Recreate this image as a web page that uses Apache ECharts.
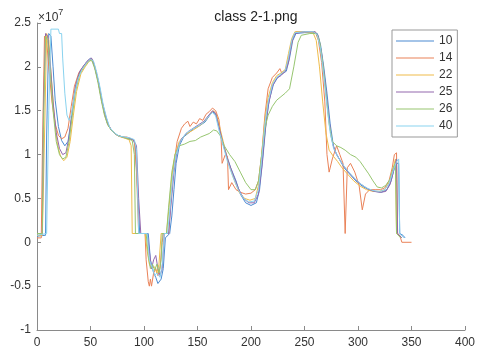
<!DOCTYPE html>
<html>
<head>
<meta charset="utf-8">
<script src="https://cdn.jsdelivr.net/npm/echarts@6/dist/echarts.min.js"></script>
<style>
  html, body { margin: 0; padding: 0; background: #fff; }
  #chart { width: 480px; height: 360px; }
</style>
</head>
<body>
<div id="chart"></div>
<script>
// Signal traces, values in units of 1e7, as [sample, value] pairs
const trace10 = [[0,0.07],[8,0.08],[9,1.2],[11,2.38],[13,2.35],[15,2.0],[17,1.62],[20,1.32],[23,1.16],[26,1.1],[29,1.15],[32,1.4],[35,1.7],[38,1.88],[42,1.98],[46,2.05],[50,2.1],[52,2.08],[55,1.95],[58,1.8],[61,1.6],[64,1.45],[67,1.33],[70,1.27],[75,1.22],[80,1.2],[85,1.18],[90,1.17],[92,1.1],[94,0.6],[96,0.1],[104,0.1],[106,-0.2],[109,-0.35],[111,-0.4],[113,-0.47],[116,-0.42],[118,-0.3],[120,0.05],[124,0.1],[126,0.3],[128,0.6],[130,0.9],[133,1.1],[137,1.2],[142,1.25],[147,1.3],[152,1.33],[157,1.37],[161,1.44],[164,1.49],[167,1.46],[170,1.32],[173,1.15],[177,1.0],[181,0.85],[186,0.7],[190,0.55],[195,0.45],[200,0.42],[205,0.45],[208,0.6],[211,0.95],[214,1.35],[217,1.62],[221,1.8],[225,1.88],[229,1.92],[233,1.95],[236,2.1],[239,2.3],[242,2.38],[250,2.39],[258,2.39],[262,2.38],[265,2.25],[268,2.0],[271,1.7],[274,1.35],[277,1.1],[280,1.0],[283,0.94],[287,0.85],[292,0.78],[298,0.7],[304,0.64],[310,0.6],[316,0.58],[322,0.57],[327,0.6],[331,0.7],[334,0.85],[336,0.9],[338,0.9],[339,0.1],[342,0.08],[344,0.05]];

const trace14 = [[0,0.05],[4,0.05],[5,1.0],[7,2.35],[9,2.3],[11,2.0],[14,1.6],[17,1.35],[20,1.22],[23,1.18],[26,1.2],[29,1.3],[32,1.55],[35,1.78],[39,1.93],[43,2.0],[47,2.06],[51,2.09],[54,2.0],[57,1.85],[60,1.65],[63,1.47],[66,1.35],[70,1.27],[75,1.22],[80,1.2],[84,1.2],[88,1.18],[91,1.15],[93,0.8],[95,0.1],[101,0.1],[102,-0.2],[104,-0.45],[105,-0.5],[106,-0.42],[107,-0.5],[109,-0.35],[111,-0.3],[113,-0.38],[115,-0.3],[117,0.0],[118,0.1],[123,0.1],[125,0.45],[128,0.9],[131,1.15],[135,1.3],[138,1.35],[141,1.38],[143,1.32],[146,1.37],[149,1.35],[152,1.41],[155,1.39],[158,1.46],[161,1.49],[164,1.53],[167,1.5],[170,1.4],[172,1.2],[173,0.9],[176,1.0],[178,0.98],[179,0.6],[182,0.68],[186,0.6],[190,0.57],[195,0.55],[200,0.56],[204,0.6],[207,0.7],[210,1.0],[213,1.45],[216,1.75],[220,1.88],[224,1.93],[227,1.98],[229,1.92],[233,1.98],[236,2.15],[239,2.33],[242,2.4],[250,2.4],[260,2.4],[263,2.3],[266,2.05],[269,1.6],[271,1.0],[273,0.8],[276,0.95],[280,1.1],[283,1.0],[286,0.9],[288,0.1],[290,0.85],[293,0.9],[297,0.8],[301,0.65],[304,0.37],[307,0.55],[311,0.6],[316,0.6],[321,0.6],[325,0.62],[329,0.7],[332,0.85],[334,1.0],[336,1.02],[337,0.1],[339,0.08],[341,0.0],[350,0.0]];

const trace22 = [[0,0.08],[5,0.08],[7,1.2],[9,2.38],[11,2.3],[13,1.95],[16,1.45],[19,1.12],[22,0.98],[25,0.93],[28,0.97],[31,1.15],[34,1.45],[37,1.72],[41,1.92],[45,2.0],[49,2.07],[52,2.07],[55,1.95],[58,1.78],[61,1.58],[64,1.42],[67,1.32],[71,1.26],[76,1.21],[81,1.19],[86,1.17],[88,1.1],[89,0.1],[101,0.1],[103,-0.1],[105,-0.25],[107,-0.3],[110,-0.28],[112,-0.35],[114,-0.25],[116,0.1],[121,0.1],[123,0.35],[126,0.75],[129,1.0],[133,1.15],[139,1.23],[146,1.28],[151,1.32],[157,1.38],[161,1.45],[165,1.5],[168,1.45],[171,1.3],[175,1.1],[179,0.9],[184,0.72],[189,0.57],[194,0.5],[199,0.48],[204,0.5],[207,0.65],[210,1.0],[213,1.4],[216,1.65],[220,1.82],[224,1.9],[228,1.93],[232,1.97],[235,2.15],[238,2.32],[241,2.4],[250,2.4],[258,2.39],[261,2.3],[264,2.0],[267,1.6],[270,1.25],[273,1.05],[277,0.98],[281,0.92],[285,0.85],[290,0.78],[296,0.7],[302,0.64],[308,0.6],[314,0.58],[320,0.58],[325,0.6],[329,0.68],[333,0.85],[335,0.95],[336,0.1],[340,0.05]];

const trace25 = [[0,0.1],[5,0.1],[6,1.5],[8,2.38],[10,2.35],[12,2.1],[15,1.6],[18,1.25],[21,1.07],[24,1.0],[27,1.02],[30,1.2],[33,1.5],[36,1.78],[40,1.95],[44,2.02],[48,2.08],[51,2.1],[54,2.0],[57,1.85],[60,1.65],[63,1.48],[66,1.35],[70,1.27],[75,1.22],[80,1.2],[85,1.19],[90,1.17],[93,1.1],[95,0.5],[97,0.1],[103,0.1],[105,-0.1],[107,-0.3],[109,-0.2],[111,-0.15],[113,-0.3],[115,-0.38],[117,-0.3],[119,0.1],[123,0.1],[125,0.4],[128,0.8],[131,1.05],[135,1.18],[141,1.26],[146,1.3],[151,1.34],[156,1.38],[160,1.44],[164,1.5],[167,1.47],[170,1.32],[174,1.12],[178,0.95],[183,0.78],[188,0.62],[193,0.5],[198,0.45],[203,0.45],[207,0.55],[210,0.85],[213,1.25],[216,1.55],[220,1.78],[224,1.87],[228,1.9],[232,1.95],[235,2.05],[238,2.28],[241,2.38],[250,2.4],[260,2.4],[263,2.35],[266,2.15],[269,1.85],[272,1.5],[275,1.2],[278,1.05],[282,0.96],[286,0.88],[291,0.8],[297,0.72],[303,0.66],[309,0.61],[315,0.58],[321,0.57],[326,0.58],[330,0.66],[333,0.8],[336,0.95],[337,0.1],[341,0.05]];

const trace26 = [[0,0.1],[5,0.1],[6,1.3],[8,2.35],[10,2.3],[12,2.0],[15,1.5],[18,1.15],[21,1.0],[24,0.95],[27,0.97],[30,1.15],[33,1.45],[36,1.72],[40,1.92],[44,2.0],[48,2.06],[51,2.08],[54,1.98],[57,1.82],[60,1.62],[63,1.45],[66,1.34],[70,1.27],[75,1.22],[80,1.2],[85,1.18],[89,1.16],[91,1.0],[92,0.1],[102,0.1],[104,-0.15],[106,-0.3],[108,-0.25],[110,-0.32],[112,-0.25],[114,-0.35],[116,-0.2],[117,0.1],[121,0.1],[123,0.4],[126,0.8],[129,1.0],[133,1.1],[138,1.12],[143,1.15],[148,1.16],[153,1.2],[157,1.22],[161,1.24],[165,1.28],[168,1.27],[171,1.22],[175,1.1],[180,1.0],[185,0.92],[190,0.8],[195,0.68],[200,0.6],[204,0.6],[207,0.7],[210,1.0],[213,1.3],[216,1.45],[220,1.55],[224,1.62],[228,1.66],[232,1.7],[236,1.75],[240,2.0],[244,2.28],[247,2.36],[255,2.38],[261,2.38],[264,2.3],[267,2.05],[270,1.7],[273,1.35],[276,1.15],[280,1.1],[284,1.08],[288,1.05],[293,1.0],[298,0.97],[302,0.92],[306,0.85],[310,0.78],[314,0.7],[318,0.63],[322,0.62],[326,0.65],[330,0.72],[333,0.85],[335,0.9],[336,0.1],[340,0.05]];

const trace40 = [[0,0.08],[9,0.1],[11,1.5],[13,2.43],[20,2.43],[21,2.38],[23,2.38],[24,2.1],[26,1.7],[28,1.45],[30,1.39],[32,1.45],[35,1.68],[38,1.85],[42,1.97],[46,2.04],[50,2.09],[53,2.06],[56,1.93],[59,1.76],[62,1.56],[65,1.42],[68,1.31],[72,1.25],[77,1.21],[82,1.2],[87,1.19],[91,1.17],[93,1.05],[95,0.1],[103,0.1],[105,-0.2],[108,-0.3],[110,-0.38],[112,-0.35],[115,-0.4],[117,-0.25],[119,0.1],[122,0.1],[124,0.35],[127,0.75],[130,1.0],[134,1.15],[139,1.24],[145,1.29],[151,1.33],[156,1.37],[160,1.43],[164,1.48],[167,1.44],[170,1.28],[174,1.1],[178,0.92],[183,0.75],[188,0.6],[193,0.5],[198,0.46],[203,0.47],[207,0.6],[210,0.95],[213,1.35],[216,1.6],[220,1.8],[224,1.88],[228,1.92],[232,1.96],[235,2.1],[238,2.3],[241,2.39],[250,2.4],[259,2.4],[262,2.36],[265,2.2],[268,1.9],[271,1.55],[274,1.25],[277,1.08],[281,0.98],[285,0.9],[290,0.82],[296,0.74],[302,0.67],[308,0.62],[314,0.59],[320,0.58],[325,0.6],[329,0.67],[333,0.82],[336,0.92],[338,0.95],[339,0.1],[343,0.05]];

const traceNames = ['10', '14', '22', '25', '26', '40'];
const traceData = [trace10, trace14, trace22, trace25, trace26, trace40];
const traceColors = ['#4a8ad2', '#ea8258', '#efbc4a', '#9468ad', '#97c670', '#8ad3ef'];

const xTicks = { min: 0, max: 400, step: 50 };
const yTicks = { min: -1, max: 2.5, step: 0.5 };

const chart = echarts.init(document.getElementById('chart'), null, { renderer: 'canvas' });
const axisGray = '#8a8a8a';
const labelColor = '#333';
const font = 'Liberation Sans, Arial, sans-serif';

chart.setOption({
  animation: false,
  backgroundColor: '#fff',
  title: {
    text: 'class 2-1.png',
    left: 251, top: 5,
    textAlign: 'center',
    textStyle: { fontFamily: font, fontSize: 14, fontWeight: 'normal', color: '#222' }
  },
  grid: { left: 37, right: 15, top: 23, bottom: 30, containLabel: false },
  legend: {
    orient: 'vertical',
    left: 392, top: 30,
    padding: [5, 5, 5, 4],
    icon: 'rect',
    itemWidth: 38, itemHeight: 1, itemGap: 5,
    backgroundColor: '#fff',
    borderColor: '#999', borderWidth: 1, borderRadius: 0,
    textStyle: { fontFamily: font, fontSize: 12, color: labelColor, lineHeight: 10 },
    data: traceNames
  },
  xAxis: {
    type: 'value',
    min: xTicks.min, max: xTicks.max, interval: xTicks.step,
    axisLine: { show: true, onZero: false, lineStyle: { color: axisGray, width: 1 } },
    axisTick: { show: true, inside: true, length: 4, lineStyle: { color: axisGray } },
    axisLabel: { margin: 7, fontFamily: font, fontSize: 12, color: labelColor },
    splitLine: { show: false }
  },
  yAxis: {
    type: 'value',
    min: yTicks.min, max: yTicks.max, interval: yTicks.step,
    axisLine: { show: true, onZero: false, lineStyle: { color: axisGray, width: 1 } },
    axisTick: { show: true, inside: true, length: 4, lineStyle: { color: axisGray } },
    axisLabel: { margin: 6, fontFamily: font, fontSize: 12, color: labelColor },
    splitLine: { show: false }
  },
  graphic: [{
    type: 'text',
    left: 38, top: 8,
    style: {
      text: '{b|×10}{s|7}',
      rich: {
        b: { fontFamily: font, fontSize: 12, fill: labelColor, padding: [4, 0, 0, 0] },
        s: { fontFamily: font, fontSize: 9, fill: labelColor, verticalAlign: 'top', padding: [0, 0, 5, 0] }
      }
    }
  }],
  series: traceNames.map((name, i) => ({
    name: name,
    type: 'line',
    data: traceData[i],
    symbol: 'none',
    showSymbol: false,
    lineStyle: { width: 1, color: traceColors[i] },
    itemStyle: { color: traceColors[i] },
    emphasis: { disabled: true }
  }))
});
</script>
</body>
</html>
